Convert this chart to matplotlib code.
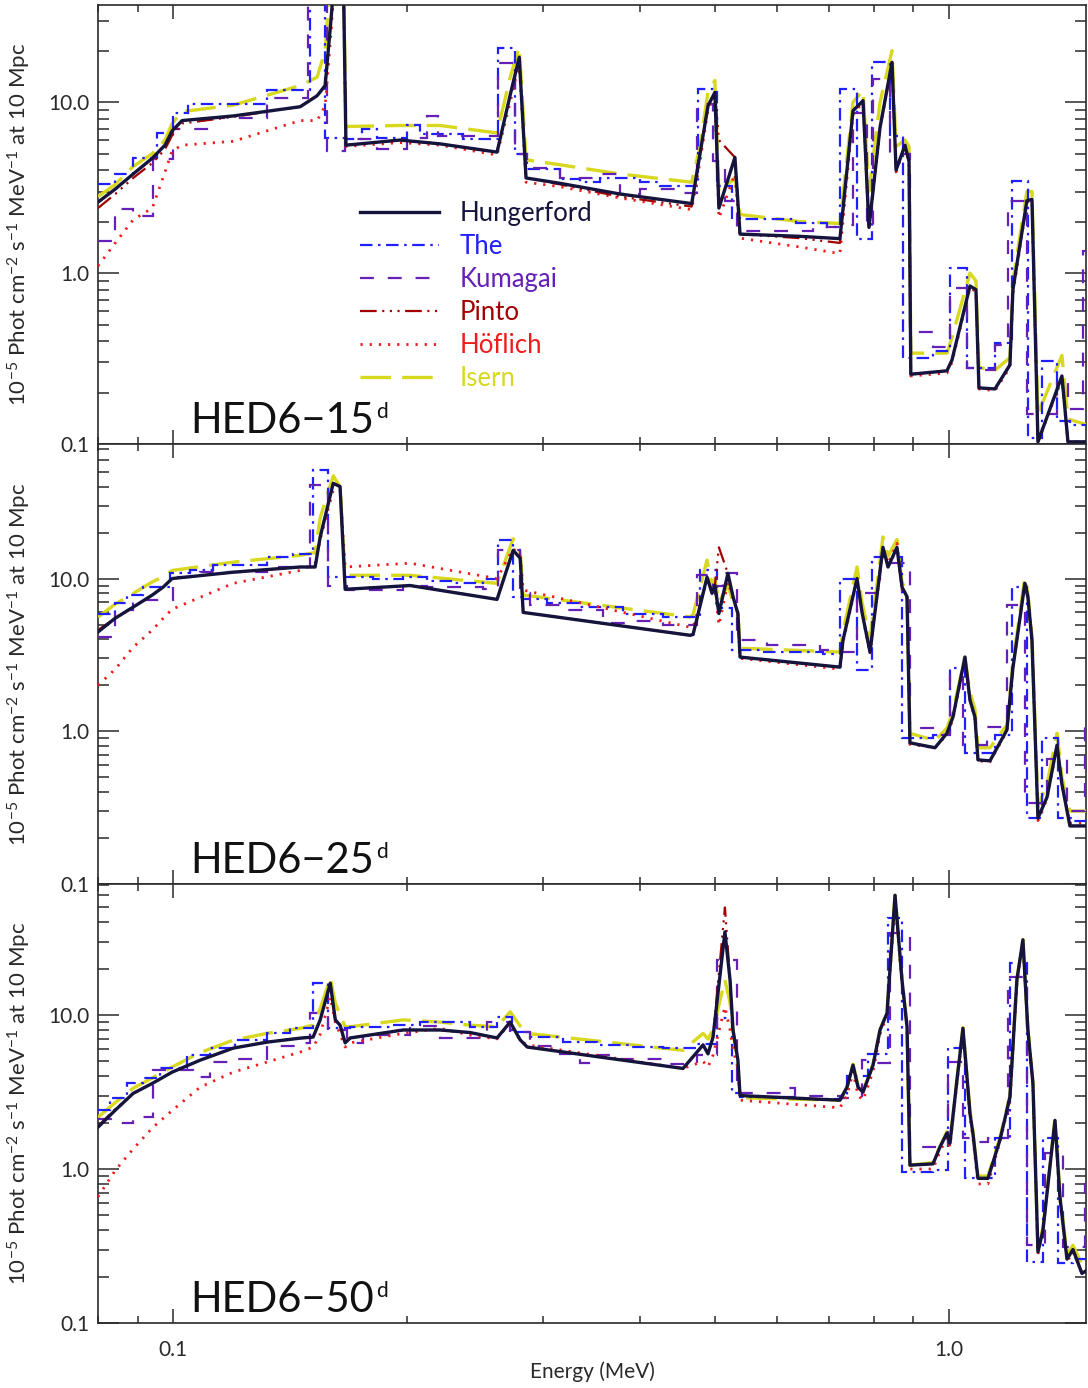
import matplotlib
matplotlib.use("Agg")
import matplotlib.pyplot as plt
from matplotlib.lines import Line2D
from matplotlib.ticker import FixedLocator, FixedFormatter, LogLocator, NullFormatter

plt.rcParams['font.family'] = ['Lato', 'DejaVu Sans']
plt.rcParams['font.weight'] = 'normal'
plt.rcParams['mathtext.fontset'] = 'custom'
plt.rcParams['mathtext.rm'] = 'Lato'
plt.rcParams['mathtext.it'] = 'Lato:italic'
plt.rcParams['mathtext.bf'] = 'Lato:bold'
plt.rcParams['lines.scale_dashes'] = False

# ---------------- data (energy in MeV, flux in 1e-5 ph/cm2/s/MeV) ----------------
models = ["Hungerford", "The", "Kumagai", "Pinto", "Höflich", "Isern"]
epochs = ["15", "25", "50"]
ytops = [37, 76, 71]

# ---- day 15 ----
E15 = [0.0800, 0.0842, 0.0888, 0.0940, 0.0976, 0.0997, 0.1027, 0.1195, 0.1458, 0.1533, 0.1570, 0.1597, 0.1626, 0.1655,
       0.1670, 0.1961, 0.2208, 0.2615, 0.2719, 0.2793, 0.2850, 0.3153, 0.3767, 0.4660, 0.4777, 0.4891, 0.4992, 0.5052,
       0.5298, 0.5379, 0.6427, 0.7236, 0.7522, 0.7749, 0.7887, 0.8150, 0.8445, 0.8547, 0.8777, 0.8883, 0.8930, 0.9940,
       1.0090, 1.0644, 1.0834, 1.0931, 1.1463, 1.1984, 1.2091, 1.2603, 1.2794, 1.3024, 1.3984, 1.4237, 1.5020]
hung15 = [2.6, 3.1, 3.8, 4.7, 5.6, 6.8, 7.8, 8.3, 9.4, 10.9, 12.5, 30, 80, 80, 5.6, 6.0, 5.7, 5.1, 11, 18.3, 3.6, 3.35,
          2.9, 2.55, 5.0, 9.5, 11.4, 2.4, 4.75, 1.69, 1.64, 1.59, 8.9, 10.2, 1.85, 7.1, 17.1, 4.0, 5.6, 4.5, 0.256, 0.268,
          0.31, 0.84, 0.80, 0.213, 0.21, 0.29, 0.8, 2.65, 2.7, 0.103, 0.25, 0.103, 0.103]
pinto15 = [2.4, 2.9, 3.6, 4.4, 5.3, 6.4, 7.5, 8.2, 9.4, 10.9, 12.5, 30, 80, 80, 5.6, 6.0, 5.7, 5.1, 11, 18.3, 3.6, 3.3,
           2.8, 2.45, 5.0, 9.5, 11.4, 6.0, 4.75, 1.69, 1.6, 1.5, 8.9, 10.2, 1.85, 7.1, 17.1, 4.0, 5.6, 4.5, 0.256, 0.268,
           0.31, 0.84, 0.80, 0.213, 0.21, 0.29, 0.8, 2.65, 2.7, 0.103, 0.25, 0.103, 0.103]
hof15 = [1.1, 1.5, 2.05, 2.4, 3.9, 5.2, 5.6, 5.9, 7.8, 7.8, 9.5, 25, 80, 80, 5.5, 5.8, 5.6, 4.9, 10, 17, 3.4, 3.2, 2.75,
         2.35, 4.5, 9.0, 11.0, 2.1, 3.8, 1.6, 1.42, 1.30, 8.5, 10, 1.8, 7.0, 17, 3.9, 5.5, 4.4, 0.25, 0.26, 0.30, 0.82,
         0.78, 0.21, 0.205, 0.28, 0.75, 2.6, 2.65, 0.103, 0.24, 0.103, 0.103]
isern15 = [2.8, 3.3, 4.2, 5.0, 6.0, 7.5, 8.8, 9.6, 12.5, 14, 20, 60, 80, 80, 7.2, 7.3, 7.3, 6.6, 14, 21, 4.6, 4.3, 3.8,
           3.4, 5.5, 11.5, 13.4, 3.0, 3.6, 2.2, 2.0, 1.95, 10, 11.7, 3.0, 10, 20, 5.5, 6.0, 5.5, 0.34, 0.34, 0.42, 1.0,
           0.9, 0.28, 0.27, 0.32, 0.9, 3.0, 3.0, 0.15, 0.33, 0.14, 0.13]
the15_edges = [0.0800, 0.0842, 0.0888, 0.0954, 0.1000, 0.1045, 0.1321, 0.1501, 0.1570, 0.1666, 0.1752, 0.1832, 0.2002,
               0.2081, 0.2364, 0.2623, 0.2760, 0.2860, 0.3153, 0.3345, 0.3550, 0.3998, 0.4242, 0.4745, 0.5022, 0.5253,
               0.5379, 0.6358, 0.6963, 0.7236, 0.7612, 0.7959, 0.8395, 0.8725, 0.9537, 1.0030, 1.0548, 1.1463, 1.2055,
               1.2640, 1.3180, 1.3782, 1.4320, 1.506]
the15 = [3.33, 3.8, 4.7, 6.6, 8.6, 9.8, 11.7, 80, 6.2, 6.1, 7.0, 6.2, 7.3, 6.5, 6.1, 20.6, 5.0, 4.07, 3.57, 3.4, 3.6,
         3.4, 3.25, 12.0, 3.25, 2.1, 2.07, 1.97, 1.85, 12.0, 1.58, 17.1, 6.35, 0.32, 0.35, 1.07, 0.28, 0.39, 3.47, 0.108,
         0.306, 0.136, 0.13]
kum15_edges = [0.0800, 0.0842, 0.0888, 0.0943, 0.1000, 0.1116, 0.1321, 0.1492, 0.1579, 0.1666, 0.1832, 0.2002, 0.2125,
               0.2195, 0.2623, 0.2760, 0.2860, 0.3153, 0.3550, 0.3767, 0.3998, 0.4542, 0.4732, 0.4965, 0.5143, 0.5330,
               0.6679, 0.7236, 0.7522, 0.7840, 0.7983, 0.8395, 0.8907, 0.9537, 1.0030, 1.0548, 1.0866, 1.1463, 1.1912,
               1.2603, 1.3782, 1.4237, 1.4884, 1.506]
kum15 = [1.55, 2.38, 2.17, 4.66, 7.0, 8.1, 10.6, 80, 5.2, 6.1, 5.3, 6.2, 8.3, 6.3, 17, 5.0, 4.1, 3.6, 3.8, 2.9, 3.1,
         2.95, 9.8, 4.55, 2.65, 1.77, 1.85, 1.9, 8.6, 1.85, 13.7, 5.0, 0.45, 0.37, 0.82, 0.28, 0.27, 0.38, 2.65, 0.15,
         0.234, 0.16, 1.35]

# ---- day 25 ----
E25 = [0.0800, 0.0842, 0.0888, 0.0940, 0.0971, 0.0997, 0.1195, 0.1458, 0.1524, 0.1547, 0.1608, 0.1641, 0.1666, 0.2020,
       0.2615, 0.2743, 0.2801, 0.2826, 0.4637, 0.4679, 0.4877, 0.4950, 0.4992, 0.5052, 0.5189, 0.5268, 0.5345, 0.5379,
       0.7236, 0.7302, 0.7612, 0.7726, 0.7911, 0.8222, 0.8346, 0.8570, 0.8699, 0.8830, 0.8907, 0.9594, 0.9940, 1.0120,
       1.0486, 1.0644, 1.0802, 1.0899, 1.1293, 1.1877, 1.2091, 1.2527, 1.2640, 1.2794, 1.3024, 1.3378, 1.3782, 1.3984,
       1.4320, 1.506]
hung25 = [4.47, 5.5, 6.5, 7.8, 8.8, 10.0, 11.0, 11.9, 11.9, 18.7, 42, 40, 8.5, 9.0, 7.3, 15.3, 13.6, 6.0, 4.25, 4.3,
          10.2, 8.0, 9.0, 5.9, 10.8, 7.6, 5.9, 3.06, 2.63, 3.95, 10.0, 6.0, 3.3, 16, 11.9, 16, 8.8, 7.6, 0.84, 0.78,
          0.97, 1.24, 3.06, 1.6, 1.24, 0.65, 0.64, 1.02, 2.6, 9.3, 7.6, 3.94, 0.27, 0.37, 0.81, 0.45, 0.24, 0.24]
pinto25 = [4.6, 5.5, 6.5, 7.8, 8.8, 10.0, 11.0, 11.9, 11.9, 18.7, 42, 40, 8.5, 9.0, 7.3, 15.3, 13.6, 6.0, 4.25, 4.3,
           10.2, 8.0, 9.0, 16, 10.8, 7.6, 5.9, 3.06, 2.63, 3.95, 10.0, 6.0, 3.3, 16, 11.9, 16, 8.8, 7.6, 0.84, 0.78,
           0.97, 1.24, 3.06, 1.6, 1.24, 0.65, 0.64, 1.02, 2.6, 9.3, 7.6, 3.94, 0.27, 0.37, 0.81, 0.45, 0.24, 0.24]
hof25 = [2.0, 2.55, 3.55, 4.6, 5.5, 6.3, 9.3, 11.3, 12.6, 18, 38, 38, 11.9, 12.6, 10.0, 15.7, 14, 8.4, 4.8, 4.8, 9.8,
         8.5, 8.5, 4.95, 9.5, 7.5, 5.8, 3.0, 2.55, 3.8, 9.8, 6.0, 3.2, 16, 12.5, 17, 8.5, 7.5, 0.82, 0.78, 0.95, 1.2,
         3.0, 1.6, 1.2, 0.64, 0.63, 1.0, 2.6, 9.3, 7.6, 3.9, 0.26, 0.36, 0.8, 0.44, 0.25, 0.25]
isern25 = [5.6, 6.8, 8.0, 9.5, 10.3, 11.3, 12.8, 14.2, 14.8, 25, 47, 40, 10.5, 10.5, 9.3, 18.2, 15, 7.8, 5.6, 5.8, 13.2,
           9.0, 10.0, 7.0, 9.0, 7.0, 6.0, 3.5, 3.3, 4.5, 11.9, 7.0, 4.0, 18.7, 14, 18, 9.5, 8.0, 0.97, 0.87, 1.05, 1.35,
           3.06, 1.8, 1.4, 0.78, 0.78, 1.1, 2.8, 10.2, 8.0, 4.2, 0.32, 0.45, 0.97, 0.5, 0.30, 0.30]
the25_edges = [0.0800, 0.0842, 0.0872, 0.0915, 0.0991, 0.1052, 0.1126, 0.1321, 0.1428, 0.1515, 0.1584, 0.1811, 0.1979,
               0.2125, 0.2295, 0.2509, 0.2623, 0.2743, 0.2818, 0.3034, 0.3345, 0.3801, 0.4280, 0.4777, 0.5022, 0.5253,
               0.5756, 0.6880, 0.7236, 0.7612, 0.7959, 0.8699, 0.9537, 1.0030, 1.0486, 1.1463, 1.2055, 1.2603, 1.3180,
               1.3823, 1.4406, 1.506]
the25 = [5.9, 6.9, 7.8, 8.8, 10.8, 11.3, 12.2, 13.8, 14.5, 51, 10.2, 10.0, 10.2, 9.7, 9.3, 10.0, 17.8, 7.6, 7.4, 6.9,
         6.5, 5.9, 5.6, 11.3, 6.4, 3.4, 3.3, 3.2, 10, 2.5, 13.8, 0.91, 0.95, 2.6, 0.72, 0.94, 8.8, 0.27, 0.90, 0.27,
         0.26]
kum25_edges = [0.0800, 0.0842, 0.0888, 0.1000, 0.1083, 0.1321, 0.1501, 0.1584, 0.1676, 0.1979, 0.2125, 0.2509, 0.2623,
               0.2801, 0.2885, 0.3183, 0.3583, 0.3882, 0.4280, 0.4732, 0.4965, 0.5113, 0.5330, 0.5830, 0.6820, 0.7236,
               0.7612, 0.8150, 0.8907, 0.9537, 1.0030, 1.0424, 1.1194, 1.1877, 1.2527, 1.3378, 1.4195, 1.4974, 1.506]
kum25 = [4.15, 6.2, 7.2, 10.2, 11.0, 11.9, 41, 9.0, 8.4, 9.0, 8.8, 8.6, 15.3, 8.0, 6.7, 6.2, 5.1, 5.3, 4.95, 10.5, 9.0,
         10.8, 3.95, 3.66, 3.4, 3.3, 8.1, 12.6, 1.05, 0.95, 2.33, 0.81, 1.07, 6.7, 0.34, 0.66, 0.30, 1.1]

# ---- day 50 ----
E50 = [0.0800, 0.0842, 0.0888, 0.0940, 0.0997, 0.1083, 0.1195, 0.1321, 0.1458, 0.1515, 0.1547, 0.1594, 0.1618, 0.1641,
       0.1666, 0.1691, 0.1979, 0.2208, 0.2414, 0.2615, 0.2719, 0.2801, 0.2860, 0.4542, 0.4820, 0.4891, 0.4965, 0.5143,
       0.5222, 0.5268, 0.5345, 0.5379, 0.7236, 0.7389, 0.7522, 0.7635, 0.7749, 0.7983, 0.8150, 0.8321, 0.8521, 0.8699,
       0.8830, 0.8907, 0.9537, 0.9737, 0.9940, 1.0030, 1.0240, 1.0424, 1.0644, 1.0737, 1.0899, 1.1228, 1.1633, 1.1984,
       1.2234, 1.2455, 1.2640, 1.2831, 1.3024, 1.3219, 1.3699, 1.3900, 1.4195, 1.4449, 1.4840, 1.506]
hung50 = [1.87, 2.41, 3.1, 3.6, 4.26, 5.09, 6.1, 6.67, 7.08, 7.2, 9.3, 16.1, 9.3, 8.6, 6.6, 7.1, 8.0, 8.0, 7.7, 7.1,
          9.0, 6.9, 6.2, 4.5, 6.4, 5.6, 7.2, 34.7, 16.9, 8.0, 5.1, 3.0, 2.8, 3.4, 4.73, 3.4, 3.16, 4.73, 8.0, 10.3, 60,
          16.9, 8.4, 1.06, 1.08, 1.39, 1.71, 1.47, 3.78, 8.2, 2.3, 1.71, 0.87, 0.87, 1.54, 2.93, 16.9, 30.8, 8.0, 3.6,
          0.29, 0.4, 2.07, 0.66, 0.26, 0.30, 0.21, 0.22]
pinto50 = [1.9, 2.45, 3.1, 3.6, 4.26, 5.09, 6.1, 6.67, 7.08, 7.2, 9.3, 16.1, 9.3, 8.6, 6.6, 7.1, 8.0, 8.0, 7.7, 7.1,
           9.0, 6.9, 6.2, 4.5, 6.4, 5.6, 7.2, 50, 16.9, 8.0, 5.1, 3.0, 2.8, 3.4, 4.73, 3.4, 3.16, 4.73, 8.0, 10.3, 60,
           16.9, 8.4, 1.06, 1.08, 1.39, 1.71, 1.47, 3.78, 8.2, 2.3, 1.71, 0.87, 0.87, 1.54, 2.93, 16.9, 30.8, 8.0, 3.6,
           0.29, 0.4, 2.07, 0.66, 0.26, 0.30, 0.21, 0.22]
hof50 = [0.66, 0.98, 1.35, 1.85, 2.4, 3.4, 4.26, 4.95, 5.75, 6.2, 7.5, 13.1, 9.0, 7.5, 6.2, 6.6, 7.6, 8.2, 7.4, 7.0,
         8.9, 6.8, 6.4, 4.5, 5.0, 4.6, 5.5, 11.3, 8.0, 6.0, 4.5, 2.8, 2.5, 3.0, 4.3, 3.0, 2.8, 4.3, 7.5, 10, 55, 16, 8.0,
         1.0, 1.0, 1.3, 1.6, 1.4, 3.6, 8.0, 2.2, 1.6, 0.80, 0.80, 1.5, 2.8, 16, 30, 8.0, 3.5, 0.28, 0.4, 2.0, 0.64,
         0.25, 0.29, 0.21, 0.22]
isern50 = [2.17, 2.7, 3.35, 3.9, 4.6, 5.7, 6.87, 7.6, 8.2, 8.6, 11, 17.4, 12, 10.0, 8.4, 8.4, 9.3, 9.0, 8.6, 8.4, 10.5,
           8.5, 7.6, 5.9, 7.6, 7.0, 8.0, 16.9, 12, 8.0, 4.5, 2.9, 2.8, 3.4, 4.8, 3.5, 3.2, 4.8, 8.0, 10.5, 60, 17, 8.5,
           1.06, 1.1, 1.4, 1.75, 1.5, 3.8, 8.3, 2.4, 1.75, 0.9, 0.9, 1.6, 3.0, 17, 31, 8.2, 3.7, 0.30, 0.42, 2.1, 0.7,
           0.28, 0.32, 0.24, 0.24]
the50_edges = [0.0800, 0.0829, 0.0872, 0.0915, 0.0962, 0.1042, 0.1116, 0.1202, 0.1321, 0.1415, 0.1515, 0.1584, 0.1691,
               0.1904, 0.2081, 0.2255, 0.2414, 0.2615, 0.2735, 0.2885, 0.3183, 0.3519, 0.3882, 0.4280, 0.4732, 0.5022,
               0.5253, 0.5379, 0.6358, 0.7236, 0.7389, 0.7864, 0.8346, 0.8699, 0.9537, 0.9970, 1.0486, 1.1463, 1.1984,
               1.2603, 1.3219, 1.3823, 1.4449, 1.506]
the50 = [2.41, 2.88, 3.6, 3.9, 4.5, 5.5, 6.1, 6.9, 7.6, 8.2, 16.1, 8.2, 8.4, 8.6, 9.0, 9.0, 8.4, 9.7, 7.75, 7.2, 6.7,
         6.4, 6.2, 6.1, 6.5, 9.5, 3.1, 2.93, 2.85, 2.9, 4.0, 5.6, 42.5, 0.95, 0.98, 6.1, 0.87, 1.6, 21.8, 0.25, 1.58,
         0.245, 0.26]
kum50_edges = [0.0800, 0.0842, 0.0888, 0.0943, 0.1061, 0.1116, 0.1195, 0.1321, 0.1458, 0.1501, 0.1584, 0.1676, 0.1757,
               0.2020, 0.2208, 0.2539, 0.2719, 0.2885, 0.3153, 0.3345, 0.3519, 0.3767, 0.4331, 0.4732, 0.5022, 0.5330,
               0.6111, 0.6331, 0.7236, 0.7726, 0.7959, 0.8395, 0.8907, 0.9970, 1.0424, 1.0737, 1.1228, 1.1912, 1.2603,
               1.3298, 1.4026, 1.4974, 1.506]
kum50 = [2.1, 2.0, 2.17, 4.4, 3.95, 4.95, 5.2, 6.3, 6.6, 10.3, 8.0, 6.6, 7.4, 8.5, 7.1, 9.0, 7.75, 6.3, 5.6, 4.9, 5.5,
         5.2, 4.8, 5.5, 22.8, 3.1, 3.35, 3.0, 2.9, 5.1, 4.9, 34, 1.39, 4.95, 1.6, 1.5, 1.6, 17.7, 0.32, 1.27, 0.31, 0.8]

panels = [
    dict(E=E15, Hungerford=hung15, Pinto=pinto15, Hof=hof15, Isern=isern15,
         The=(the15_edges, the15), Kumagai=(kum15_edges, kum15)),
    dict(E=E25, Hungerford=hung25, Pinto=pinto25, Hof=hof25, Isern=isern25,
         The=(the25_edges, the25), Kumagai=(kum25_edges, kum25)),
    dict(E=E50, Hungerford=hung50, Pinto=pinto50, Hof=hof50, Isern=isern50,
         The=(the50_edges, the50), Kumagai=(kum50_edges, kum50)),
]

# ---------------- styles ----------------
st = {
    "Hungerford": dict(color='#14143c', lw=2.4, ls='-', z=7),
    "The": dict(color='#1f1fff', lw=1.6, ls=(0, (9, 4, 1.8, 4)), z=4),
    "Kumagai": dict(color='#6520b8', lw=1.6, ls=(0, (10, 10)), z=4),
    "Pinto": dict(color='#a30000', lw=1.6, ls=(0, (12, 4, 1.5, 4, 1.5, 4, 1.5, 4)), z=6),
    "Höflich": dict(color='#ee1c1c', lw=2.0, ls=(0, (1.6, 5)), z=5),
    "Isern": dict(color='#d8d81e', lw=2.4, ls=(0, (22, 8)), z=3),
}

fig = plt.figure(figsize=(10.88, 13.88), dpi=100)
W, H = 1088.0, 1388.0
left, right = 98, 1086
tops = [5, 444, 884]
bots = [444, 884, 1323]
tick_col = '#2a2a2a'

for i, p in enumerate(panels):
    ax = fig.add_axes([left / W, 1 - bots[i] / H, (right - left) / W, (bots[i] - tops[i]) / H])
    ax.set_xscale('log')
    ax.set_yscale('log')

    e, v = p["The"]
    ax.stairs(v, e, baseline=None, color=st["The"]['color'], lw=st["The"]['lw'],
              linestyle=st["The"]['ls'], zorder=st["The"]['z'])
    e, v = p["Kumagai"]
    ax.stairs(v, e, baseline=None, color=st["Kumagai"]['color'], lw=st["Kumagai"]['lw'],
              linestyle=st["Kumagai"]['ls'], zorder=st["Kumagai"]['z'])
    for name, key in [("Isern", "Isern"), ("Höflich", "Hof"), ("Pinto", "Pinto"), ("Hungerford", "Hungerford")]:
        s = st[name]
        ax.plot(p["E"], p[key], color=s['color'], lw=s['lw'], linestyle=s['ls'], zorder=s['z'],
                solid_joinstyle='round')

    ax.set_xlim(0.08, 1.502)
    ax.set_ylim(0.1, ytops[i])

    ax.yaxis.set_major_locator(FixedLocator([0.1, 1.0, 10.0]))
    ax.yaxis.set_major_formatter(FixedFormatter(['0.1', '1.0', '10.0']))
    ax.yaxis.set_minor_locator(LogLocator(base=10, subs=[2, 3, 4, 5, 6, 7, 8, 9], numticks=20))
    ax.yaxis.set_minor_formatter(NullFormatter())
    ax.xaxis.set_major_locator(FixedLocator([0.1, 1.0]))
    ax.xaxis.set_minor_locator(LogLocator(base=10, subs=[2, 3, 4, 5, 6, 7, 8, 9], numticks=20))
    ax.xaxis.set_minor_formatter(NullFormatter())
    if i == 2:
        ax.xaxis.set_major_formatter(FixedFormatter(['0.1', '1.0']))
    else:
        ax.xaxis.set_major_formatter(NullFormatter())

    ax.tick_params(which='both', direction='in', top=True, right=True, colors=tick_col,
                   labelcolor=tick_col, width=1.1)
    ax.tick_params(axis='y', which='major', length=15, labelsize=15, pad=6)
    ax.tick_params(axis='y', which='minor', length=8)
    ax.tick_params(axis='x', which='major', length=10, labelsize=15, pad=12)
    ax.tick_params(axis='x', which='minor', length=5)
    for sp in ax.spines.values():
        sp.set_color(tick_col)
        sp.set_linewidth(1.2)

    ax.set_ylabel(r"10$^{-5}$ Phot cm$^{-2}$ s$^{-1}$ MeV$^{-1}$ at 10 Mpc", fontsize=16, color=tick_col)
    ax.yaxis.set_label_coords(-0.066, 0.5)

    t = ax.text(0.093, 0.025, "HED6\u2212" + epochs[i], transform=ax.transAxes,
                fontsize=30, color='#111111', ha='left', va='baseline')
    ax.annotate("d", xy=(1.0, 1.0), xycoords=t, xytext=(2, 0), textcoords='offset points',
                ha='left', va='top', fontsize=15, color='#111111')

    if i == 2:
        ax.set_xlabel("Energy (MeV)", fontsize=15, color=tick_col)
        ax.xaxis.set_label_coords(0.5, -0.088)

    if i == 0:
        handles = [Line2D([0], [0], color=st[m]['color'], lw=st[m]['lw'], linestyle=st[m]['ls']) for m in models]
        leg = ax.legend(handles, models, loc='upper left', bbox_to_anchor=(0.265, 0.553), frameon=False,
                        fontsize=18.5, handlelength=3.1, handletextpad=0.78, labelspacing=0.31,
                        borderpad=0, borderaxespad=0, labelcolor='linecolor')

fig.savefig("out.png", dpi=100)
